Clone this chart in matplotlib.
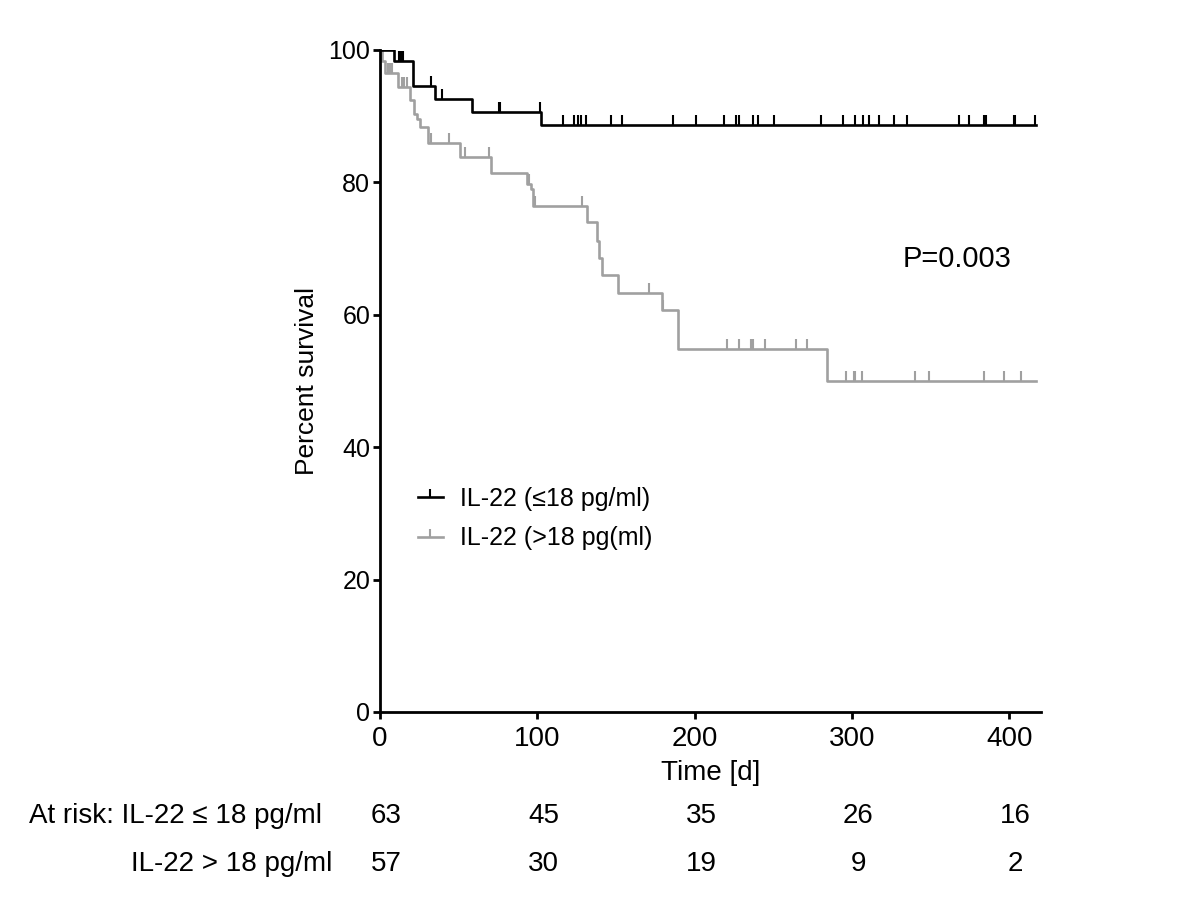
import numpy as np
import matplotlib
matplotlib.use('Agg')
import matplotlib.pyplot as plt
from matplotlib import transforms

plt.rcParams['font.family'] = ['Liberation Sans', 'DejaVu Sans']

# IL-22 <= 18 pg/ml (black)
low_times = [0, 8.9, 21.2, 35.0, 58.3, 102.5]
low_surv = [100, 98.4, 94.6, 92.6, 90.7, 88.7]
low_censor = [1.7, 3.2, 4.2, 7.8, 12.3, 13.3, 14.4, 32.4, 39.2, 75.6, 76.3,
              101.5, 116.1, 123.5, 125.6, 127.8, 130.9, 146.8, 153.6, 186.4,
              200.6, 218.4, 226.3, 228.0, 237.3, 240.3, 250.2, 280.3, 294.1,
              302.2, 307.2, 310.6, 317.0, 326.9, 334.8, 367.8, 374.6, 383.7,
              385.3, 402.8, 403.6, 416.6]
low_end = 417

# IL-22 > 18 pg/ml (gray)
high_times = [0, 1.5, 3.0, 11.6, 19.0, 21.5, 23.5, 25.5, 30.7, 51.0, 70.3,
              93.3, 96.0, 97.0, 131.3, 137.7, 139.0, 141.1, 151.1, 179.0,
              189.2, 284.2]
high_surv = [100, 98.4, 96.5, 94.4, 92.4, 90.3, 89.5, 88.3, 86.0, 83.8, 81.4,
             79.8, 79.0, 76.5, 74.0, 71.2, 68.6, 66.0, 63.3, 60.7, 54.9, 50.0]
high_censor = [5.3, 6.4, 7.8, 13.8, 15.4, 16.9, 32.6, 43.6, 54.2, 69.2, 95.0,
               98.7, 128.2, 170.8, 180.0, 220.3, 228.4, 235.9, 236.9, 245.0,
               264.5, 271.5, 296.2, 301.1, 302.2, 306.2, 340.1, 348.8, 383.7,
               396.7, 407.5]
high_end = 417

risk_times = [0, 100, 200, 300, 400]
risk_low = [63, 45, 35, 26, 16]
risk_high = [57, 30, 19, 9, 2]

labels = ['IL-22 (\u226418 pg/ml)', 'IL-22 (>18 pg(ml)']
colors = ['black', '#a0a0a0']


def step_value(times, surv, t):
    idx = np.searchsorted(times, t, side='right') - 1
    return np.array(surv)[idx]


fig = plt.figure(figsize=(12, 9), dpi=100)
ax = fig.add_axes([0.3167, 0.2089, 0.5506, 0.7356])

groups = [(low_times, low_surv, low_censor, low_end),
          (high_times, high_surv, high_censor, high_end)]
for k, (times, surv, cens, end) in enumerate(groups):
    x = list(times) + [end]
    y = list(surv) + [surv[-1]]
    ax.step(x, y, where='post', color=colors[k], lw=1.9, zorder=3 - k,
            marker=2, markevery=[], label=labels[k], ms=6, mew=1.5)
    cy = step_value(times, surv, np.array(cens))
    ax.plot(cens, cy, ls='none', marker=2, ms=7, mew=1.5, color=colors[k],
            zorder=3 - k)

ax.set_xlim(0, 420)
ax.set_ylim(0, 100)
ax.set_xticks([0, 100, 200, 300, 400])
ax.set_yticks([0, 20, 40, 60, 80, 100])
for s in ['top', 'right']:
    ax.spines[s].set_visible(False)
for s in ['left', 'bottom']:
    ax.spines[s].set_linewidth(2)
ax.tick_params(axis='both', direction='out', length=5, width=2)
ax.tick_params(axis='y', labelsize=18, pad=2)
ax.tick_params(axis='x', labelsize=20, pad=5)

ax.set_ylabel('Percent survival', fontsize=19, labelpad=7)
ax.set_xlabel('Time [d]', fontsize=20, labelpad=6)

ax.text(332.5, 68.4, 'P=0.003', fontsize=21, ha='left', va='center')

ax.legend(loc='upper left', bbox_to_anchor=(0.057, 0.34), frameon=False,
          fontsize=18, handlelength=1.0, handletextpad=0.7, borderpad=0,
          borderaxespad=0, labelspacing=0.62)
for h in ax.get_legend().legend_handles:
    h.set_markevery([1])

# at-risk table
trans = transforms.blended_transform_factory(ax.transData, fig.transFigure)
for t, n1, n2 in zip(risk_times, risk_low, risk_high):
    ax.text(t + 4, 1 - 816 / 900, str(n1), transform=trans, ha='center',
            va='center', fontsize=20, clip_on=False)
    ax.text(t + 4, 1 - 864 / 900, str(n2), transform=trans, ha='center',
            va='center', fontsize=20, clip_on=False)
fig.text(322 / 1200, 1 - 816 / 900, 'At risk: IL-22 \u2264 18 pg/ml',
         ha='right', va='center', fontsize=20)
fig.text(332 / 1200, 1 - 864 / 900, 'IL-22 > 18 pg/ml',
         ha='right', va='center', fontsize=20)

fig.savefig('out.png', dpi=100)
